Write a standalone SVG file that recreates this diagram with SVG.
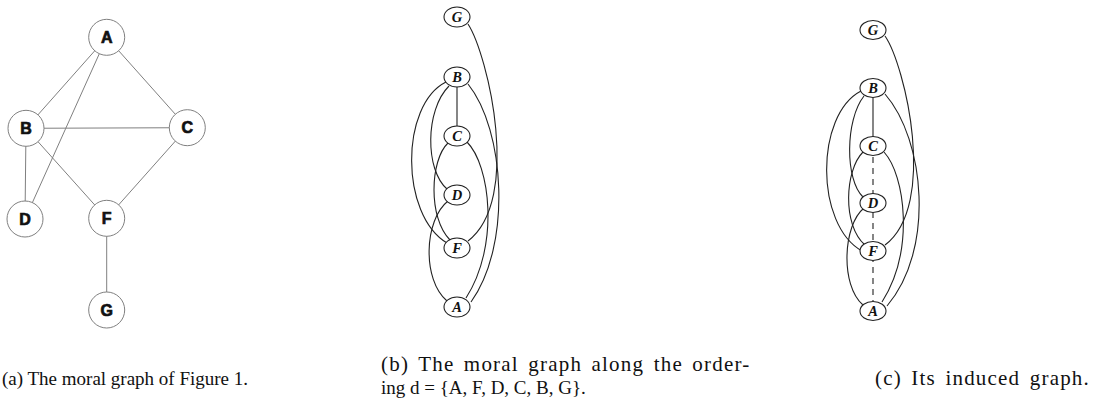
<svg xmlns="http://www.w3.org/2000/svg" width="1111" height="408" viewBox="0 0 1111 408">
<style>
.ledge{stroke:#808080;stroke-width:1;fill:none}
.lnode{fill:#fff;stroke:#808080;stroke-width:1}
.llab{font-family:"Liberation Sans",Arial,sans-serif;font-weight:bold;font-size:16px;fill:#111;stroke:#111;stroke-width:0.7;text-anchor:middle}
.edge{stroke:#222;stroke-width:1.1;fill:none}
.dash{stroke:#222;stroke-width:1.1;fill:none;stroke-dasharray:6 5}
.enode{fill:#fff;stroke:#222;stroke-width:1.1}
.elab{font-family:"Liberation Serif","Times New Roman",serif;font-style:italic;font-weight:bold;font-size:14.5px;fill:#111;text-anchor:middle}
.cap{font-family:"Liberation Serif","Times New Roman",serif;font-size:19px;fill:#111}
.capb{font-family:"Liberation Serif","Times New Roman",serif;font-size:21px;letter-spacing:1.2px;word-spacing:3px;fill:#111}
</style>
<rect width="1111" height="408" fill="#fff"/>

<!-- Graph (a) -->
<g id="a-connectors">
<line class="ledge" x1="106.7" y1="37.3" x2="26" y2="128.3"/>
<line class="ledge" x1="106.7" y1="37.3" x2="25" y2="219"/>
<line class="ledge" x1="106.7" y1="37.3" x2="187.3" y2="127.7"/>
<line class="ledge" x1="26" y1="128.3" x2="187.3" y2="127.7"/>
<line class="ledge" x1="26" y1="128.3" x2="25" y2="219"/>
<line class="ledge" x1="26" y1="128.3" x2="106.7" y2="218.3"/>
<line class="ledge" x1="187.3" y1="127.7" x2="106.7" y2="218.3"/>
<line class="ledge" x1="106.7" y1="218.3" x2="106.7" y2="310"/>
</g>
<g id="a-A"><circle class="lnode" cx="106.7" cy="37.3" r="18"/><text class="llab" x="106.7" y="43">A</text></g>
<g id="a-B"><circle class="lnode" cx="26" cy="128.3" r="18"/><text class="llab" x="26" y="134">B</text></g>
<g id="a-C"><circle class="lnode" cx="187.3" cy="127.7" r="18"/><text class="llab" x="187.3" y="133.4">C</text></g>
<g id="a-D"><circle class="lnode" cx="25" cy="219" r="18"/><text class="llab" x="25" y="224.7">D</text></g>
<g id="a-F"><circle class="lnode" cx="106.7" cy="218.3" r="18"/><text class="llab" x="106.7" y="224">F</text></g>
<g id="a-G"><circle class="lnode" cx="106.7" cy="310" r="18"/><text class="llab" x="106.7" y="315.7">G</text></g>

<!-- Graph (b) -->
<g id="b-connectors">
<line class="edge" x1="457" y1="77" x2="457" y2="136"/>
<path class="edge" d="M468 24 C488 55 522 200 468 241"/>
<path class="edge" d="M468 84 C505 130 512 245 471 302"/>
<path class="edge" d="M467 142 C490 165 500 245 466 298"/>
<path class="edge" d="M446 82 C400 105 400 215 447 243"/>
<path class="edge" d="M449 86 C425 110 425 170 447 189"/>
<path class="edge" d="M448 143 C430 160 428 218 450 240"/>
<path class="edge" d="M448 201 C424 220 422 280 447 301"/>
</g>
<g id="b-G"><ellipse class="enode" cx="457" cy="17" rx="13" ry="10"/><text class="elab" x="457" y="22">G</text></g>
<g id="b-B"><ellipse class="enode" cx="457" cy="77" rx="13" ry="10"/><text class="elab" x="457" y="82">B</text></g>
<g id="b-C"><ellipse class="enode" cx="457" cy="136" rx="13" ry="10"/><text class="elab" x="457" y="141">C</text></g>
<g id="b-D"><ellipse class="enode" cx="457" cy="195" rx="13" ry="10"/><text class="elab" x="457" y="200">D</text></g>
<g id="b-F"><ellipse class="enode" cx="457" cy="248" rx="13" ry="10"/><text class="elab" x="457" y="253">F</text></g>
<g id="b-A"><ellipse class="enode" cx="457" cy="307" rx="13" ry="10"/><text class="elab" x="457" y="312">A</text></g>

<!-- Graph (c) -->
<g id="c-connectors">
<line class="edge" x1="873" y1="88" x2="873" y2="146"/>
<line class="dash" x1="873" y1="157" x2="873" y2="301"/>
<path class="edge" d="M885 36 C905 65 938 205 885 245"/>
<path class="edge" d="M885 94 C925 140 935 250 887 306"/>
<path class="edge" d="M884 152 C905 175 915 250 882 302"/>
<path class="edge" d="M861 91 C815 115 815 225 862 251"/>
<path class="edge" d="M864 96 C845 120 845 180 863 197"/>
<path class="edge" d="M863 152 C845 170 842 225 865 245"/>
<path class="edge" d="M864 208 C843 225 840 285 863 305"/>
</g>
<g id="c-G"><ellipse class="enode" cx="873" cy="30" rx="13" ry="9.5"/><text class="elab" x="873" y="35">G</text></g>
<g id="c-B"><ellipse class="enode" cx="873" cy="88" rx="13" ry="9.5"/><text class="elab" x="873" y="93">B</text></g>
<g id="c-C"><ellipse class="enode" cx="873" cy="146" rx="13" ry="9.5"/><text class="elab" x="873" y="151">C</text></g>
<g id="c-D"><ellipse class="enode" cx="873" cy="203" rx="13" ry="9.5"/><text class="elab" x="873" y="208">D</text></g>
<g id="c-F"><ellipse class="enode" cx="873" cy="251" rx="13" ry="9.5"/><text class="elab" x="873" y="256">F</text></g>
<g id="c-A"><ellipse class="enode" cx="873" cy="311" rx="13" ry="9.5"/><text class="elab" x="873" y="316">A</text></g>

<!-- Captions -->
<text class="cap" x="2" y="385">(a) The moral graph of Figure 1.</text>
<text class="capb" x="381" y="371">(b) The moral graph along the order-</text>
<text class="cap" x="381" y="394">ing d = {A, F, D, C, B, G}.</text>
<text class="capb" x="875" y="385">(c) Its induced graph.</text>
</svg>
